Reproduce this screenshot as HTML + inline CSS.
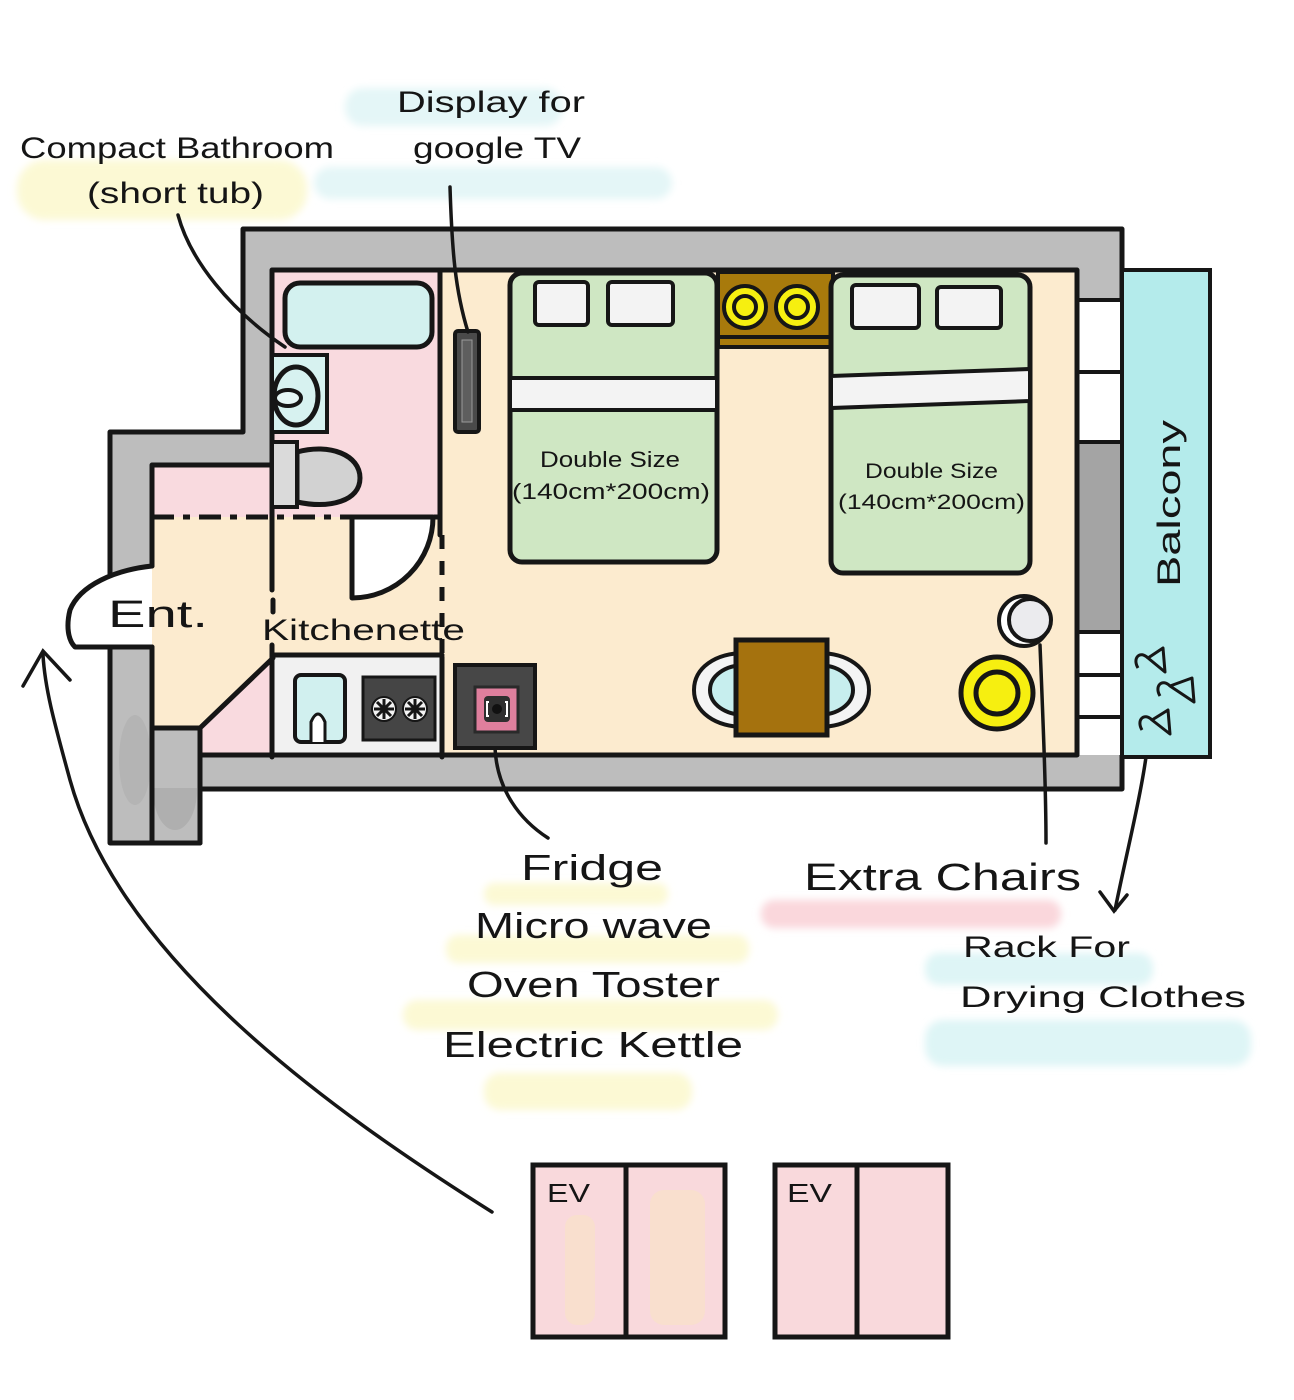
<!DOCTYPE html>
<html><head><meta charset="utf-8"><style>
html,body{margin:0;padding:0;background:#fff;}
svg{display:block;}
text{font-family:"Liberation Sans",sans-serif;fill:#151515;}
</style></head><body>
<svg width="1294" height="1400" viewBox="0 0 1294 1400" xmlns="http://www.w3.org/2000/svg">
<defs>
<filter id="b" x="-20%" y="-60%" width="140%" height="220%"><feGaussianBlur stdDeviation="4"/></filter>
</defs>
<rect width="1294" height="1400" fill="#fff"/>

<!-- highlights -->
<g filter="url(#b)">
<rect x="345" y="88" width="218" height="38" rx="18" fill="#e4f6f7"/>
<rect x="314" y="167" width="358" height="32" rx="16" fill="#e4f6f7"/>
<rect x="17" y="160" width="290" height="60" rx="28" fill="#fcf9d4"/>
<rect x="484" y="883" width="184" height="22" rx="10" fill="#fcf9d4"/>
<rect x="446" y="935" width="303" height="28" rx="12" fill="#fcf9d4"/>
<rect x="403" y="1000" width="375" height="30" rx="14" fill="#fcf9d4"/>
<rect x="484" y="1073" width="208" height="37" rx="16" fill="#fcf9d4"/>
<rect x="761" y="900" width="300" height="28" rx="13" fill="#fad7dc"/>
<rect x="925" y="953" width="228" height="32" rx="14" fill="#def5f6"/>
<rect x="925" y="1020" width="326" height="46" rx="18" fill="#def5f6"/>
</g>

<!-- walls -->
<g stroke="#161616" stroke-width="5" stroke-linejoin="round" stroke-linecap="round">
<polygon points="243,229 1122,229 1122,789 200,789 200,843 110,843 110,432 243,432" fill="#bdbdbd"/>
</g>
<rect x="1079" y="444" width="41" height="186" fill="#a4a4a4"/>
<ellipse cx="175" cy="790" rx="22" ry="40" fill="#aaaaaa" opacity="0.7"/>
<ellipse cx="135" cy="760" rx="16" ry="45" fill="#b0b0b0" opacity="0.7"/>

<!-- floors -->
<rect x="440" y="270" width="637" height="247" fill="#fcebcf"/>
<rect x="152" y="517" width="925" height="238" fill="#fcebcf"/>
<rect x="272" y="270" width="168" height="247" fill="#f9dadf"/>
<rect x="152" y="465" width="120" height="52" fill="#f9dadf"/>
<rect x="152" y="728" width="48" height="60" fill="#bdbdbd"/>
<polygon points="273,658 200,728 200,755 273,755" fill="#f9dadf"/>
<rect x="273" y="655" width="169" height="100" fill="#f1f1f1"/>

<!-- windows right wall -->
<rect x="1078" y="300" width="43" height="142" fill="#fff"/>
<rect x="1078" y="632" width="43" height="123" fill="#fff"/>

<!-- balcony -->
<rect x="1122" y="270" width="88" height="487" fill="#b4ebeb" stroke="#161616" stroke-width="4"/>

<!-- entrance bubble -->
<path d="M152,566 C115,570 80,585 70,610 C66,626 68,640 75,647 L152,647 Z" fill="#fff"/>

<g stroke="#161616" stroke-width="5" fill="none" stroke-linecap="round" stroke-linejoin="round">
<!-- inner outline -->
<polyline points="272,465 272,270 1077,270 1077,755 200,755"/>
<polyline points="152,566 152,465 272,465"/>
<line x1="152" y1="647" x2="152" y2="843"/>
<polyline points="152,728 200,728 200,843"/>
<path d="M152,566 C115,570 80,585 70,610 C66,626 68,640 75,647 L152,647"/>
<line x1="110" y1="566" x2="110" y2="647" stroke="#fff" stroke-width="0"/>
<!-- windows -->
<line x1="1077" y1="300" x2="1122" y2="300" stroke-width="4"/>
<line x1="1077" y1="372" x2="1122" y2="372" stroke-width="4"/>
<line x1="1077" y1="442" x2="1122" y2="442" stroke-width="4"/>
<line x1="1077" y1="632" x2="1122" y2="632" stroke-width="4"/>
<line x1="1077" y1="675" x2="1122" y2="675" stroke-width="4"/>
<line x1="1077" y1="717" x2="1122" y2="717" stroke-width="4"/>
<!-- bathroom walls -->
<line x1="272" y1="465" x2="272" y2="590"/>
<line x1="272" y1="645" x2="272" y2="757"/>
<line x1="273" y1="600" x2="273" y2="612"/>
<line x1="440" y1="270" x2="440" y2="535"/>
<line x1="152" y1="517" x2="442" y2="517" stroke-dasharray="22 9 7 9" stroke-linecap="butt"/>
<!-- kitchen right dashed -->
<line x1="442" y1="535" x2="442" y2="657" stroke-dasharray="14 12" stroke-linecap="butt"/>
<line x1="442" y1="657" x2="442" y2="757"/>
<line x1="273" y1="655" x2="442" y2="655"/>
<line x1="273" y1="658" x2="200" y2="728"/>
</g>

<!-- kitchen door -->
<path d="M352,517 L352,598 A81,81 0 0 0 433,517 Z" fill="#fff" stroke="#161616" stroke-width="5" stroke-linejoin="round"/>

<!-- bathtub -->
<rect x="285" y="283" width="147" height="64" rx="15" fill="#d3f1ef" stroke="#161616" stroke-width="5"/>
<!-- sink -->
<rect x="272" y="355" width="55" height="77" fill="#d7f2f0" stroke="#161616" stroke-width="4"/>
<ellipse cx="296" cy="396" rx="22" ry="29" fill="#d7f2f0" stroke="#161616" stroke-width="5"/>
<ellipse cx="288" cy="398" rx="13" ry="8" fill="#e6f7f6" stroke="#161616" stroke-width="4"/>
<!-- toilet -->
<path d="M297,452 C330,443 360,455 360,478 C360,501 330,509 297,502 Z" fill="#d2d2d2" stroke="#161616" stroke-width="5"/>
<rect x="272" y="442" width="25" height="65" fill="#dadada" stroke="#161616" stroke-width="4"/>

<!-- TV -->
<rect x="455" y="331" width="24" height="101" rx="3" fill="#4a4a4a" stroke="#161616" stroke-width="4"/>
<rect x="462" y="340" width="10" height="82" fill="#5e5e5e" stroke="#9a9a9a" stroke-width="1"/>

<!-- nightstand -->
<rect x="718" y="272" width="115" height="75" fill="#a87a0c" stroke="#161616" stroke-width="4"/>
<line x1="718" y1="337" x2="833" y2="337" stroke="#161616" stroke-width="4"/>
<g stroke="#161616" stroke-width="4">
<circle cx="745" cy="307" r="21" fill="#f6ef10"/>
<circle cx="745" cy="307" r="11" fill="#f6ef10"/>
<circle cx="797" cy="307" r="21" fill="#f6ef10"/>
<circle cx="797" cy="307" r="11" fill="#f6ef10"/>
</g>

<!-- beds -->
<g stroke="#161616" stroke-width="5">
<rect x="510" y="273" width="207" height="289" rx="12" fill="#cfe7c3"/>
<rect x="510" y="378" width="207" height="32" fill="#f3f3f3" stroke-width="4"/>
<rect x="535" y="282" width="53" height="43" rx="4" fill="#f3f3f3" stroke-width="4"/>
<rect x="608" y="282" width="65" height="43" rx="4" fill="#f3f3f3" stroke-width="4"/>
<rect x="831" y="275" width="199" height="298" rx="12" fill="#cfe7c3"/>
<path d="M831,376 L1030,369 L1030,401 L831,408 Z" fill="#f3f3f3" stroke-width="4"/>
<rect x="852" y="285" width="67" height="43" rx="4" fill="#f3f3f3" stroke-width="4"/>
<rect x="937" y="287" width="64" height="41" rx="4" fill="#f3f3f3" stroke-width="4"/>
</g>

<!-- table & chairs -->
<g stroke="#161616" stroke-width="4">
<path d="M745,653 C715,653 694,668 694,690 C694,712 715,727 745,727 Z" fill="#f4f4f4"/>
<path d="M745,665 C725,665 710,676 710,690 C710,704 725,715 745,715 Z" fill="#c7eeee"/>
<path d="M818,653 C848,653 869,668 869,690 C869,712 848,727 818,727 Z" fill="#f4f4f4"/>
<path d="M818,665 C838,665 853,676 853,690 C853,704 838,715 818,715 Z" fill="#c7eeee"/>
<rect x="736" y="640" width="91" height="95" fill="#a5720e" stroke-width="5"/>
</g>

<!-- stools -->
<g stroke="#161616">
<circle cx="1024" cy="621" r="25" fill="#fff" stroke-width="4"/>
<circle cx="1030" cy="620" r="21" fill="#ebebee" stroke-width="4"/>
<circle cx="997" cy="693" r="36" fill="#f6ef10" stroke-width="5"/>
<circle cx="997" cy="693" r="21" fill="#f6ef10" stroke-width="5"/>
</g>

<!-- kitchen appliances -->
<rect x="295" y="675" width="50" height="67" rx="6" fill="#d1f0ef" stroke="#161616" stroke-width="4"/>
<path d="M311,742 L311,722 Q318,706 325,722 L325,742" fill="#fff" stroke="#161616" stroke-width="3"/>
<rect x="363" y="677" width="72" height="63" fill="#454545" stroke="#161616" stroke-width="3"/>
<g stroke="#161616" stroke-width="2">
<circle cx="384" cy="709" r="12" fill="#f4f4f4"/>
<circle cx="415" cy="709" r="12" fill="#f4f4f4"/>
<path d="M374,709 L394,709 M384,699 L384,719 M377,702 L391,716 M391,702 L377,716" stroke-width="3"/>
<path d="M405,709 L425,709 M415,699 L415,719 M408,702 L422,716 M422,702 L408,716" stroke-width="3"/>
</g>
<!-- fridge -->
<rect x="455" y="665" width="80" height="83" fill="#474747" stroke="#161616" stroke-width="4"/>
<rect x="475" y="687" width="43" height="45" fill="#df7f9d" stroke="#2a2a2a" stroke-width="3"/>
<rect x="484" y="696" width="26" height="26" rx="4" fill="#2f2f2f"/>
<path d="M489,702 L487,702 L487,716 L489,716 M505,702 L507,702 L507,716 L505,716" stroke="#fff" stroke-width="2" fill="none"/>
<circle cx="497" cy="709" r="5" fill="#111"/>

<!-- hangers -->
<g stroke="#161616" stroke-width="3" fill="none" stroke-linejoin="round">
<path d="M1138,668 C1132,658 1140,650 1148,658"/>
<path d="M1148,658 L1163,648 L1165,672 Z"/>
<path d="M1160,696 C1154,686 1162,678 1170,686"/>
<path d="M1170,686 L1192,678 L1194,702 Z"/>
<path d="M1142,730 C1136,720 1144,712 1152,720"/>
<path d="M1152,720 L1168,710 L1170,734 Z"/>
</g>

<!-- connectors -->
<g stroke="#161616" stroke-width="3.5" fill="none" stroke-linecap="round">
<path d="M450,187 C452,250 455,290 468,332"/>
<path d="M178,215 C190,260 230,310 285,347"/>
<path d="M495,748 C497,790 520,820 548,838"/>
<path d="M1040,645 C1043,720 1046,790 1046,843"/>
<path d="M1146,757 C1140,800 1125,860 1115,910"/>
<path d="M1100,892 L1114,911 L1127,895"/>
<path d="M492,1212 C330,1110 120,960 70,780 C55,725 45,690 43,655"/>
<path d="M23,686 L43,651 L70,680"/>
</g>

<!-- elevators -->
<g stroke="#161616" stroke-width="5">
<rect x="533" y="1165" width="192" height="172" fill="#f9d9dc"/>
<line x1="626" y1="1165" x2="626" y2="1337"/>
<rect x="775" y="1165" width="173" height="172" fill="#f9d9dc"/>
<line x1="857" y1="1165" x2="857" y2="1337"/>
</g>
<g fill="#f8e3c4" opacity="0.6">
<rect x="565" y="1215" width="30" height="110" rx="12"/>
<rect x="650" y="1190" width="55" height="135" rx="14"/>
</g>

<!-- text -->
<text x="20" y="158" font-size="30" textLength="314" lengthAdjust="spacingAndGlyphs">Compact Bathroom</text>
<text x="87" y="203" font-size="30" textLength="177" lengthAdjust="spacingAndGlyphs">(short tub)</text>
<text x="397" y="112" font-size="30" textLength="188" lengthAdjust="spacingAndGlyphs">Display for</text>
<text x="413" y="158" font-size="30" textLength="168" lengthAdjust="spacingAndGlyphs">google TV</text>
<text x="108" y="627" font-size="38" textLength="100" lengthAdjust="spacingAndGlyphs">Ent.</text>
<text x="262" y="640" font-size="30" textLength="203" lengthAdjust="spacingAndGlyphs">Kitchenette</text>
<text x="540" y="467" font-size="22" textLength="140" lengthAdjust="spacingAndGlyphs">Double Size</text>
<text x="512" y="499" font-size="22" textLength="198" lengthAdjust="spacingAndGlyphs">(140cm*200cm)</text>
<text x="865" y="478" font-size="21" textLength="133" lengthAdjust="spacingAndGlyphs">Double Size</text>
<text x="838" y="509" font-size="21" textLength="187" lengthAdjust="spacingAndGlyphs">(140cm*200cm)</text>
<text transform="translate(1180,587) rotate(-90)" font-size="32" textLength="167" lengthAdjust="spacingAndGlyphs">Balcony</text>
<text x="521" y="880" font-size="36" textLength="142" lengthAdjust="spacingAndGlyphs">Fridge</text>
<text x="475" y="938" font-size="36" textLength="237" lengthAdjust="spacingAndGlyphs">Micro wave</text>
<text x="467" y="997" font-size="36" textLength="253" lengthAdjust="spacingAndGlyphs">Oven Toster</text>
<text x="443" y="1057" font-size="36" textLength="300" lengthAdjust="spacingAndGlyphs">Electric Kettle</text>
<text x="804" y="890" font-size="38" textLength="277" lengthAdjust="spacingAndGlyphs">Extra Chairs</text>
<text x="963" y="957" font-size="30" textLength="167" lengthAdjust="spacingAndGlyphs">Rack For</text>
<text x="960" y="1007" font-size="30" textLength="286" lengthAdjust="spacingAndGlyphs">Drying Clothes</text>
<text x="547" y="1202" font-size="26" textLength="43" lengthAdjust="spacingAndGlyphs">EV</text>
<text x="787" y="1202" font-size="26" textLength="45" lengthAdjust="spacingAndGlyphs">EV</text>
</svg>
</body></html>
